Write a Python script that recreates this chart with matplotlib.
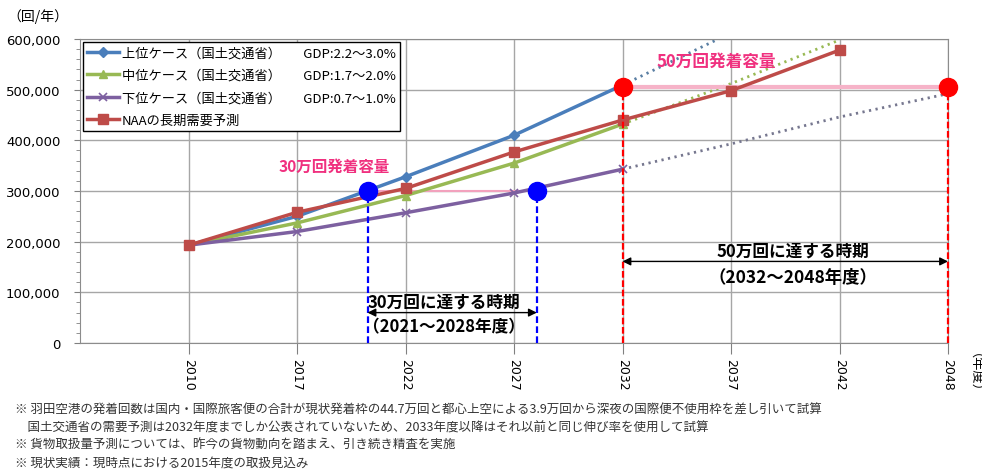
import matplotlib as mpl
mpl.use('Agg')
import matplotlib.pyplot as plt
from matplotlib.ticker import FuncFormatter, MultipleLocator

plt.rcParams['font.family'] = ['Noto Sans CJK JP', 'DejaVu Sans']

years = ['2010', '2017', '2022', '2027', '2032', '2037', '2042', '2048']

# 国交省の需要予測（2032年度まで）
upper = [193000, 250000, 328000, 410000, 509000]
middle = [193000, 237000, 291000, 355000, 432000]
lower = [193000, 220000, 257000, 296000, 343000]
# NAA長期需要予測
naa = [193000, 258000, 305000, 377000, 440000, 498000, 578000]

# 2033年度以降（同じ伸び率で延長）
upper_ext = [509000, 612000]
middle_ext = [432000, 512000, 598000]
lower_ext = [343000, 393000, 446000, 492000]

cap_30 = 300000
cap_50 = 505000
reach_30 = [1.65, 3.21]   # 年度軸上の位置（2021, 2028）
reach_50 = [4, 7]         # 2032, 2048

labels = ['上位ケース（国土交通省）\u3000   GDP:2.2～3.0%',
          '中位ケース（国土交通省）\u3000   GDP:1.7～2.0%',
          '下位ケース（国土交通省）\u3000   GDP:0.7～1.0%',
          'NAAの長期需要予測']

notes = ['※ 羽田空港の発着回数は国内・国際旅客便の合計が現状発着枠の44.7万回と都心上空による3.9万回から深夜の国際便不使用枠を差し引いて試算',
         '\u3000国土交通省の需要予測は2032年度までしか公表されていないため、2033年度以降はそれ以前と同じ伸び率を使用して試算',
         '※ 貨物取扱量予測については、昨今の貨物動向を踏まえ、引き続き精査を実施',
         '※ 現状実績：現時点における2015年度の取扱見込み']

c_blue = '#4a7ebb'
c_green = '#98b954'
c_purple = '#7d60a0'
c_red = '#be4b48'
c_pink = '#f0307f'

fig = plt.figure(figsize=(9.82, 4.77), dpi=100)
ax = fig.add_axes([80 / 982, 1 - 344 / 477, 868 / 982, 304 / 477])

dot = (0, (0.8, 1.6))
ax.plot(range(4, 4 + len(upper_ext)), upper_ext, color='#5a7fa3', lw=2, ls=dot, zorder=2)
ax.plot(range(4, 4 + len(middle_ext)), middle_ext, color=c_green, lw=2, ls=dot, zorder=2)
ax.plot(range(4, 4 + len(lower_ext)), lower_ext, color='#76778f', lw=2, ls=dot, zorder=2)

ax.plot(range(len(upper)), upper, color=c_blue, lw=2.5, marker='D', ms=5, label=labels[0], zorder=3)
ax.plot(range(len(middle)), middle, color=c_green, lw=2.5, marker='^', ms=6, label=labels[1], zorder=3)
ax.plot(range(len(lower)), lower, color=c_purple, lw=2.5, marker='x', ms=6, mew=1.2, label=labels[2], zorder=3)
ax.plot(range(len(naa)), naa, color=c_red, lw=2.5, marker='s', ms=7, label=labels[3], zorder=4)

# 発着容量ライン
ax.plot(reach_30, [cap_30] * 2, color='#f2a2bd', lw=1.5, zorder=2)
ax.plot(reach_50, [cap_50] * 2, color='#f6b3c8', lw=3, zorder=2)
ax.vlines(reach_30, 0, cap_30, colors='#0000ff', linestyles=(0, (3, 1.5)), lw=1.6, zorder=5)
ax.vlines(reach_50, 0, cap_50, colors='#ff0000', linestyles=(0, (3, 1.2)), lw=1.6, zorder=5, clip_on=False)
ax.plot(reach_30, [cap_30] * 2, 'o', color='#0000ff', ms=13, zorder=6)
ax.plot(reach_50, [cap_50] * 2, 'o', color='#ff0000', ms=13, zorder=6, clip_on=False)

ax.text(1.34, 349000, '30万回発着容量', color=c_pink, fontsize=11.2, fontweight='bold', ha='center', va='center')
ax.text(4.86, 556000, '50万回発着容量', color=c_pink, fontsize=12, fontweight='bold', ha='center', va='center')

# 到達時期の矢印
arr = dict(arrowstyle='<|-|>', color='black', lw=1, mutation_scale=12, shrinkA=0, shrinkB=0)
ax.annotate('', xy=(reach_30[0], 60000), xytext=(reach_30[1], 60000), arrowprops=arr, zorder=7)
ax.annotate('', xy=(reach_50[0], 161000), xytext=(reach_50[1], 161000), arrowprops=arr, zorder=7)
ax.text(reach_30[0], 81000, '30万回に達する時期', fontsize=12, fontweight='bold', ha='left', va='center', zorder=8)
ax.text(reach_30[0] - 0.04, 32000, '（2021～2028年度）', fontsize=12, fontweight='bold', ha='left', va='center', zorder=8)
ax.text(5.57, 182000, '50万回に達する時期', fontsize=12, fontweight='bold', ha='center', va='center')
ax.text(5.57, 130000, '（2032～2048年度）', fontsize=12.5, fontweight='bold', ha='center', va='center')

ax.set_xlim(-1, 7)
ax.set_ylim(0, 600000)
ax.set_xticks(range(len(years)))
ax.set_xticklabels(years, rotation=-90, fontsize=9, family='DejaVu Sans')
ax.yaxis.set_major_locator(MultipleLocator(100000))
ax.yaxis.set_minor_locator(MultipleLocator(20000))
ax.yaxis.set_major_formatter(FuncFormatter(lambda v, p: f'{int(v):,}'))
for t in ax.get_yticklabels():
    t.set_family('DejaVu Sans')
ax.tick_params(axis='y', labelsize=9.5, length=4, pad=10, color='#808080')
ax.tick_params(axis='y', which='minor', length=3, color='#808080')
ax.tick_params(axis='x', length=8, pad=3, color='#808080')
ax.grid(True, color='#a6a6a6', lw=1)
ax.set_axisbelow(True)
for s in ax.spines.values():
    s.set_color('#8c8c8c')

leg = ax.legend(loc='upper left', bbox_to_anchor=(0, 1), borderaxespad=0.2, fontsize=9.5,
                fancybox=False, edgecolor='black', framealpha=1, handlelength=2.4,
                handletextpad=0.2, labelspacing=0.72, borderpad=0.35)
leg.get_frame().set_linewidth(1)

fig.text(38 / 982, 1 - 17 / 477, '（回/年）', fontsize=10, ha='center', va='center')
fig.text(968 / 982, 1 - 380 / 477, '（年度）', fontsize=9.5, ha='center', va='center', rotation=-90)

for i, n in enumerate(notes):
    fig.text(15 / 982, 1 - (410 + 17.7 * i) / 477, n, fontsize=9, color='#333333', ha='left', va='center')

fig.savefig('out.png', dpi=100)
